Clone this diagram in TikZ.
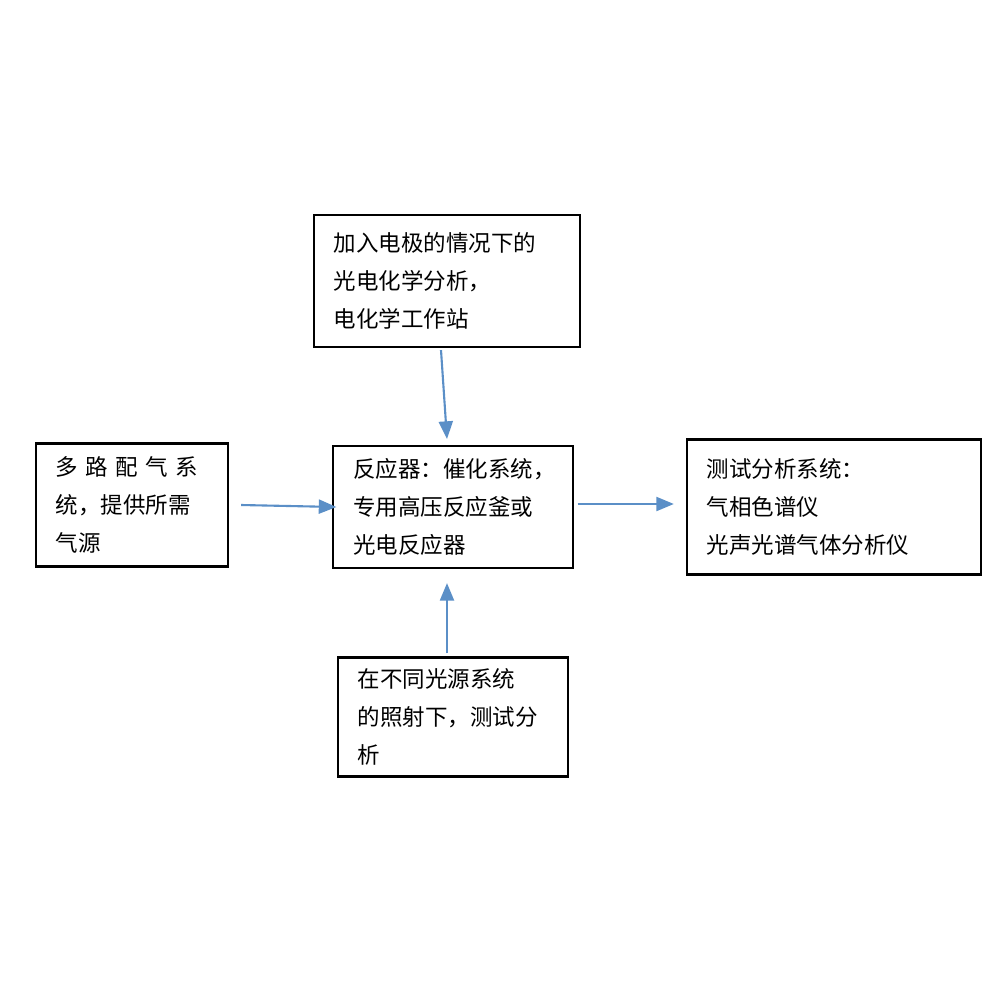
\documentclass[tikz,border=0pt]{standalone}
\usepackage{fontspec}
\setmainfont{Noto Sans CJK SC}
\usetikzlibrary{arrows.meta}
\definecolor{arrowblue}{HTML}{5B8FC7}
\begin{document}
\begin{tikzpicture}[
    x=0.01cm, y=-0.01cm,
    box/.style={draw, line width=0.6pt, inner xsep=0.2cm, inner ysep=0pt,
        align=left, font=\fontsize{6.4}{10.8}\selectfont},
    flow/.style={draw=arrowblue, line width=0.6pt, -{Triangle[length=5pt,width=4pt]}}
]
    \useasboundingbox (0,0) rectangle (1000,1000);
    % boxes, placed at their centres
    \node[box, text width=2.26cm, minimum height=1.32cm] (elec) at (447,281)
        {加入电极的情况下的\\光电化学分析，\\电化学工作站};
    \node[box, text width=1.52cm, minimum height=1.23cm] (gas) at (132,505)
        {多\ 路\ 配\ 气\ 系\\统，提供所需\\气源};
    \node[box, text width=1.99cm, minimum height=1.22cm] (reactor) at (453,507)
        {反应器：催化系统，\\专用高压反应釜或\\光电反应器};
    \node[box, text width=2.54cm, minimum height=1.35cm] (test) at (834,507)
        {测试分析系统：\\气相色谱仪\\光声光谱气体分析仪};
    \node[box, text width=1.90cm, minimum height=1.19cm] (light) at (453,717)
        {在不同光源系统\\的照射下，测试分\\析};
    % connectors
    \draw[flow] ([xshift=-0.06cm, yshift=-0.02cm]elec.south) -- ([xshift=-0.06cm, yshift=0.06cm]reactor.north);
    \draw[flow] ([xshift=0.12cm]gas.east) -- ([xshift=0.04cm]reactor.west);
    \draw[flow] ([xshift=0.04cm, yshift=0.03cm]reactor.east) -- ([xshift=-0.12cm, yshift=0.03cm]test.west);
    \draw[flow] ([xshift=-0.06cm, yshift=0.03cm]light.north) -- ([xshift=-0.06cm, yshift=-0.14cm]reactor.south);
\end{tikzpicture}
\end{document}
